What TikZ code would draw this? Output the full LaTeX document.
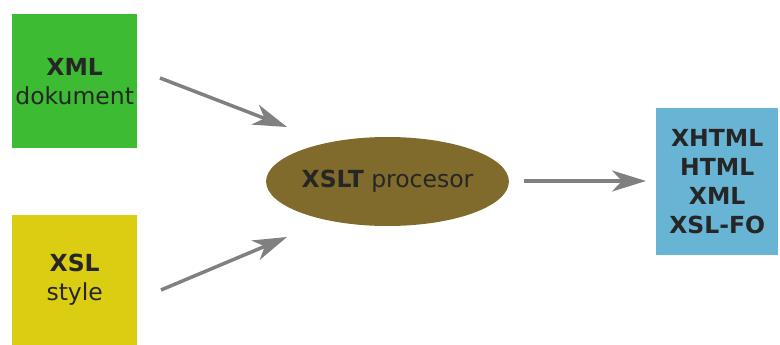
\documentclass[tikz,border=0pt]{standalone}
\usepackage{fontspec}
\setmainfont{DejaVu Sans}
\usetikzlibrary{arrows.meta,shapes.geometric}
\definecolor{xmlgreen}{RGB}{61,187,51}
\definecolor{xslyellow}{RGB}{219,205,18}
\definecolor{procbrown}{RGB}{128,106,44}
\definecolor{outblue}{RGB}{104,180,212}
\definecolor{arrowgray}{RGB}{128,128,128}
\definecolor{txtdark}{RGB}{38,38,38}
\begin{document}
\begin{tikzpicture}[x=1pt,y=-1pt,
  box/.style={draw=none, inner sep=0pt, anchor=north west, align=center,
    text=txtdark, font=\fontsize{23.5}{29}\selectfont},
  conn/.style={draw=arrowgray, line width=3.5pt,
    -{Stealth[length=34pt,width=21pt,inset=10pt]}}]
\useasboundingbox (0,0) rectangle (780,345);
\node[box, fill=xmlgreen, minimum width=125pt, minimum height=134pt] (xml) at (12,14) {\textbf{XML}\\dokument};
\node[box, fill=xslyellow, minimum width=125pt, minimum height=130pt] (xsl) at (12,215) {\textbf{XSL}\\style};
\node[box, fill=outblue, minimum width=122pt, minimum height=147pt] (out) at (656,108) {\textbf{XHTML}\\\textbf{HTML}\\\textbf{XML}\\\textbf{XSL-FO}};
\node[ellipse, fill=procbrown, inner sep=0pt, minimum width=241pt, minimum height=89pt,
  text=txtdark, font=\fontsize{23.5}{29}\selectfont] (proc) at (387.5,181.5) {\textbf{XSLT} procesor};
\coordinate (a1s) at (160,78);
\coordinate (a1e) at (287,127);
\coordinate (a2s) at (161,290);
\coordinate (a2e) at (287,237);
\coordinate (a3s) at (524,181);
\coordinate (a3e) at (646,181);
\draw[conn] (a1s) -- (a1e);
\draw[conn] (a2s) -- (a2e);
\draw[conn] (a3s) -- (a3e);
\end{tikzpicture}
\end{document}
